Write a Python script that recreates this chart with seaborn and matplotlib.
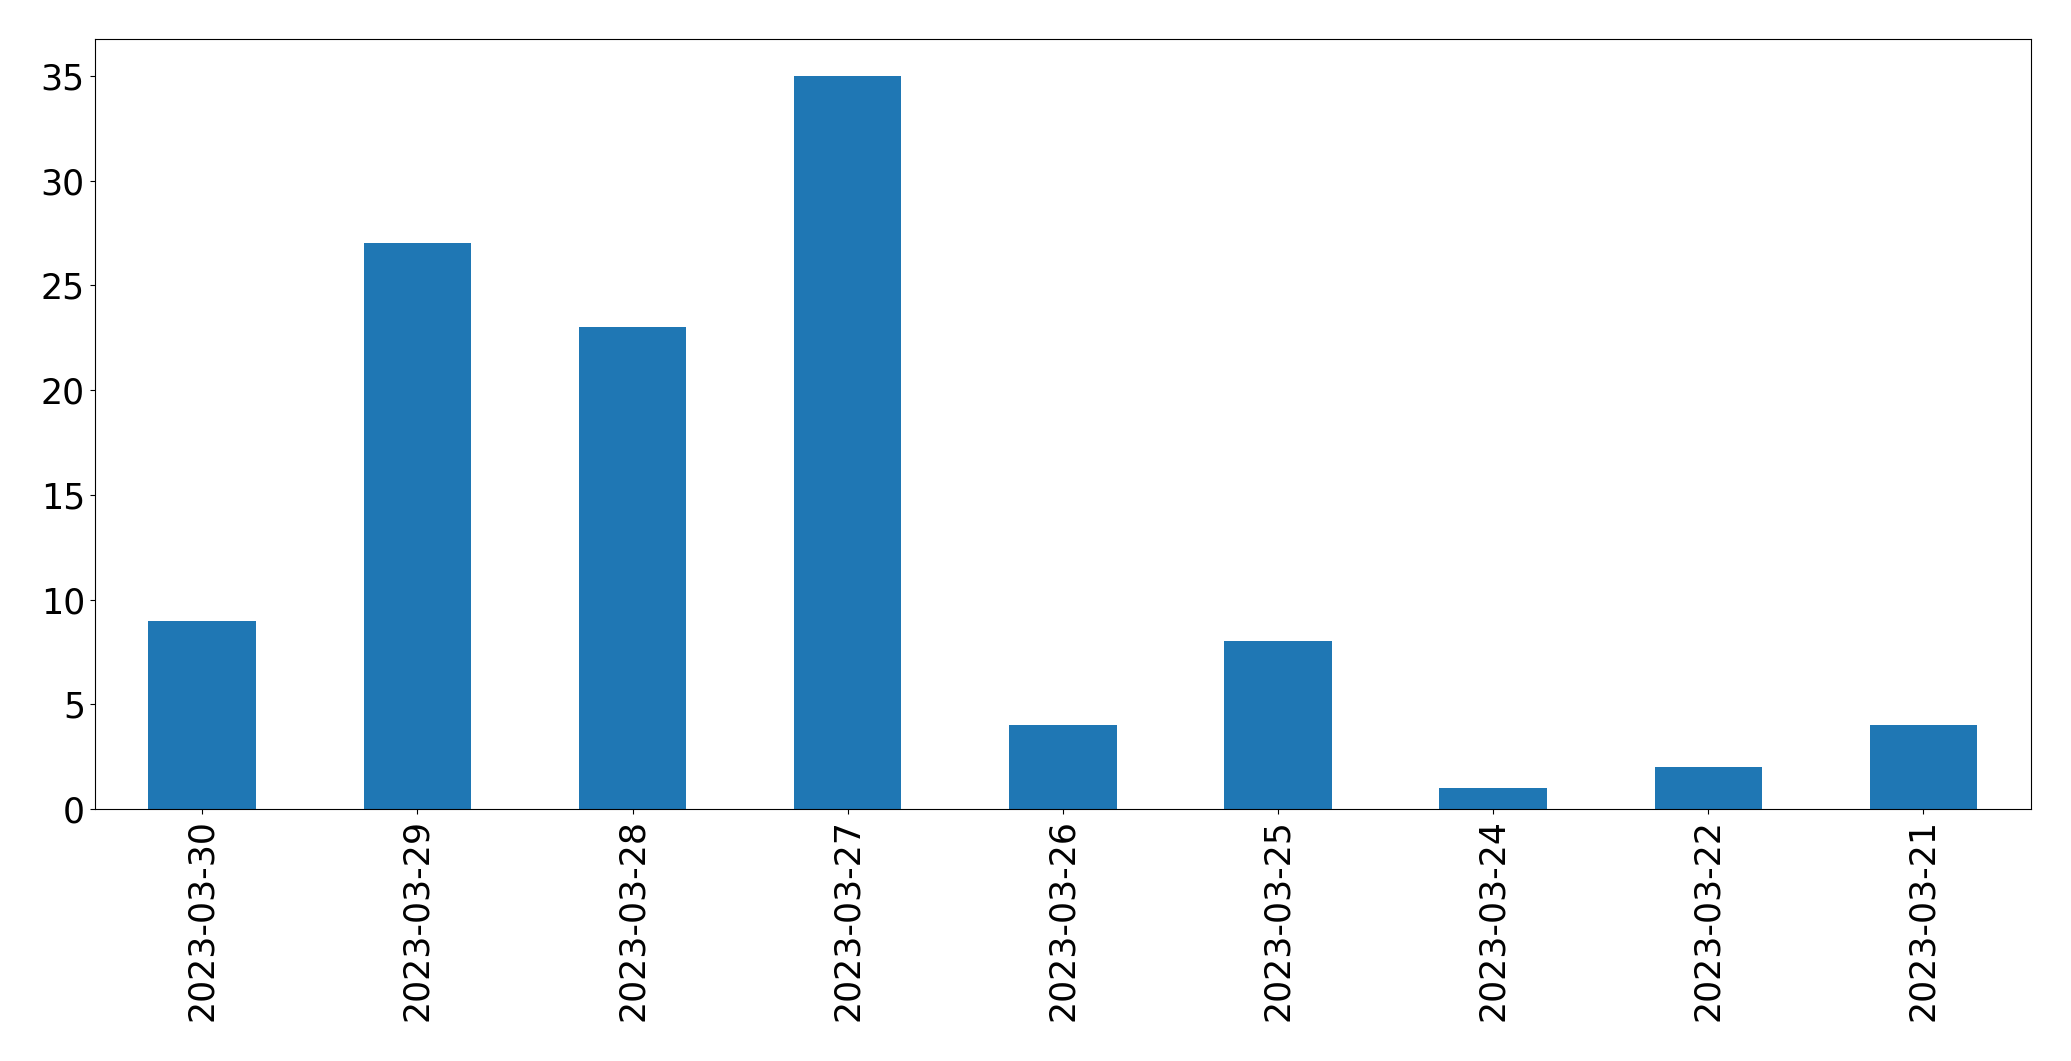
import seaborn as sns
import matplotlib
matplotlib.use('Agg')
import matplotlib.pyplot as plt

dates = ['2023-03-30', '2023-03-29', '2023-03-28', '2023-03-27', '2023-03-26',
         '2023-03-25', '2023-03-24', '2023-03-22', '2023-03-21']
counts = [9, 27, 23, 35, 4, 8, 1, 2, 4]

fig, ax = plt.subplots(figsize=(20.71, 10.61), dpi=100)
sns.barplot(x=dates, y=counts, order=dates, color='#1f77b4', saturation=1,
            width=0.5, ax=ax)
ax.set_xlim(-0.5, len(dates) - 0.5)
ax.set_ylim(0, max(counts) * 1.05)
ax.set_xlabel('')
ax.set_ylabel('')
ax.tick_params(axis='both', labelsize=25)
ax.tick_params(axis='x', labelrotation=90)
plt.subplots_adjust(left=0.0457, right=0.9807, top=0.963, bottom=0.2375)
fig.savefig('out.png', dpi=100)
